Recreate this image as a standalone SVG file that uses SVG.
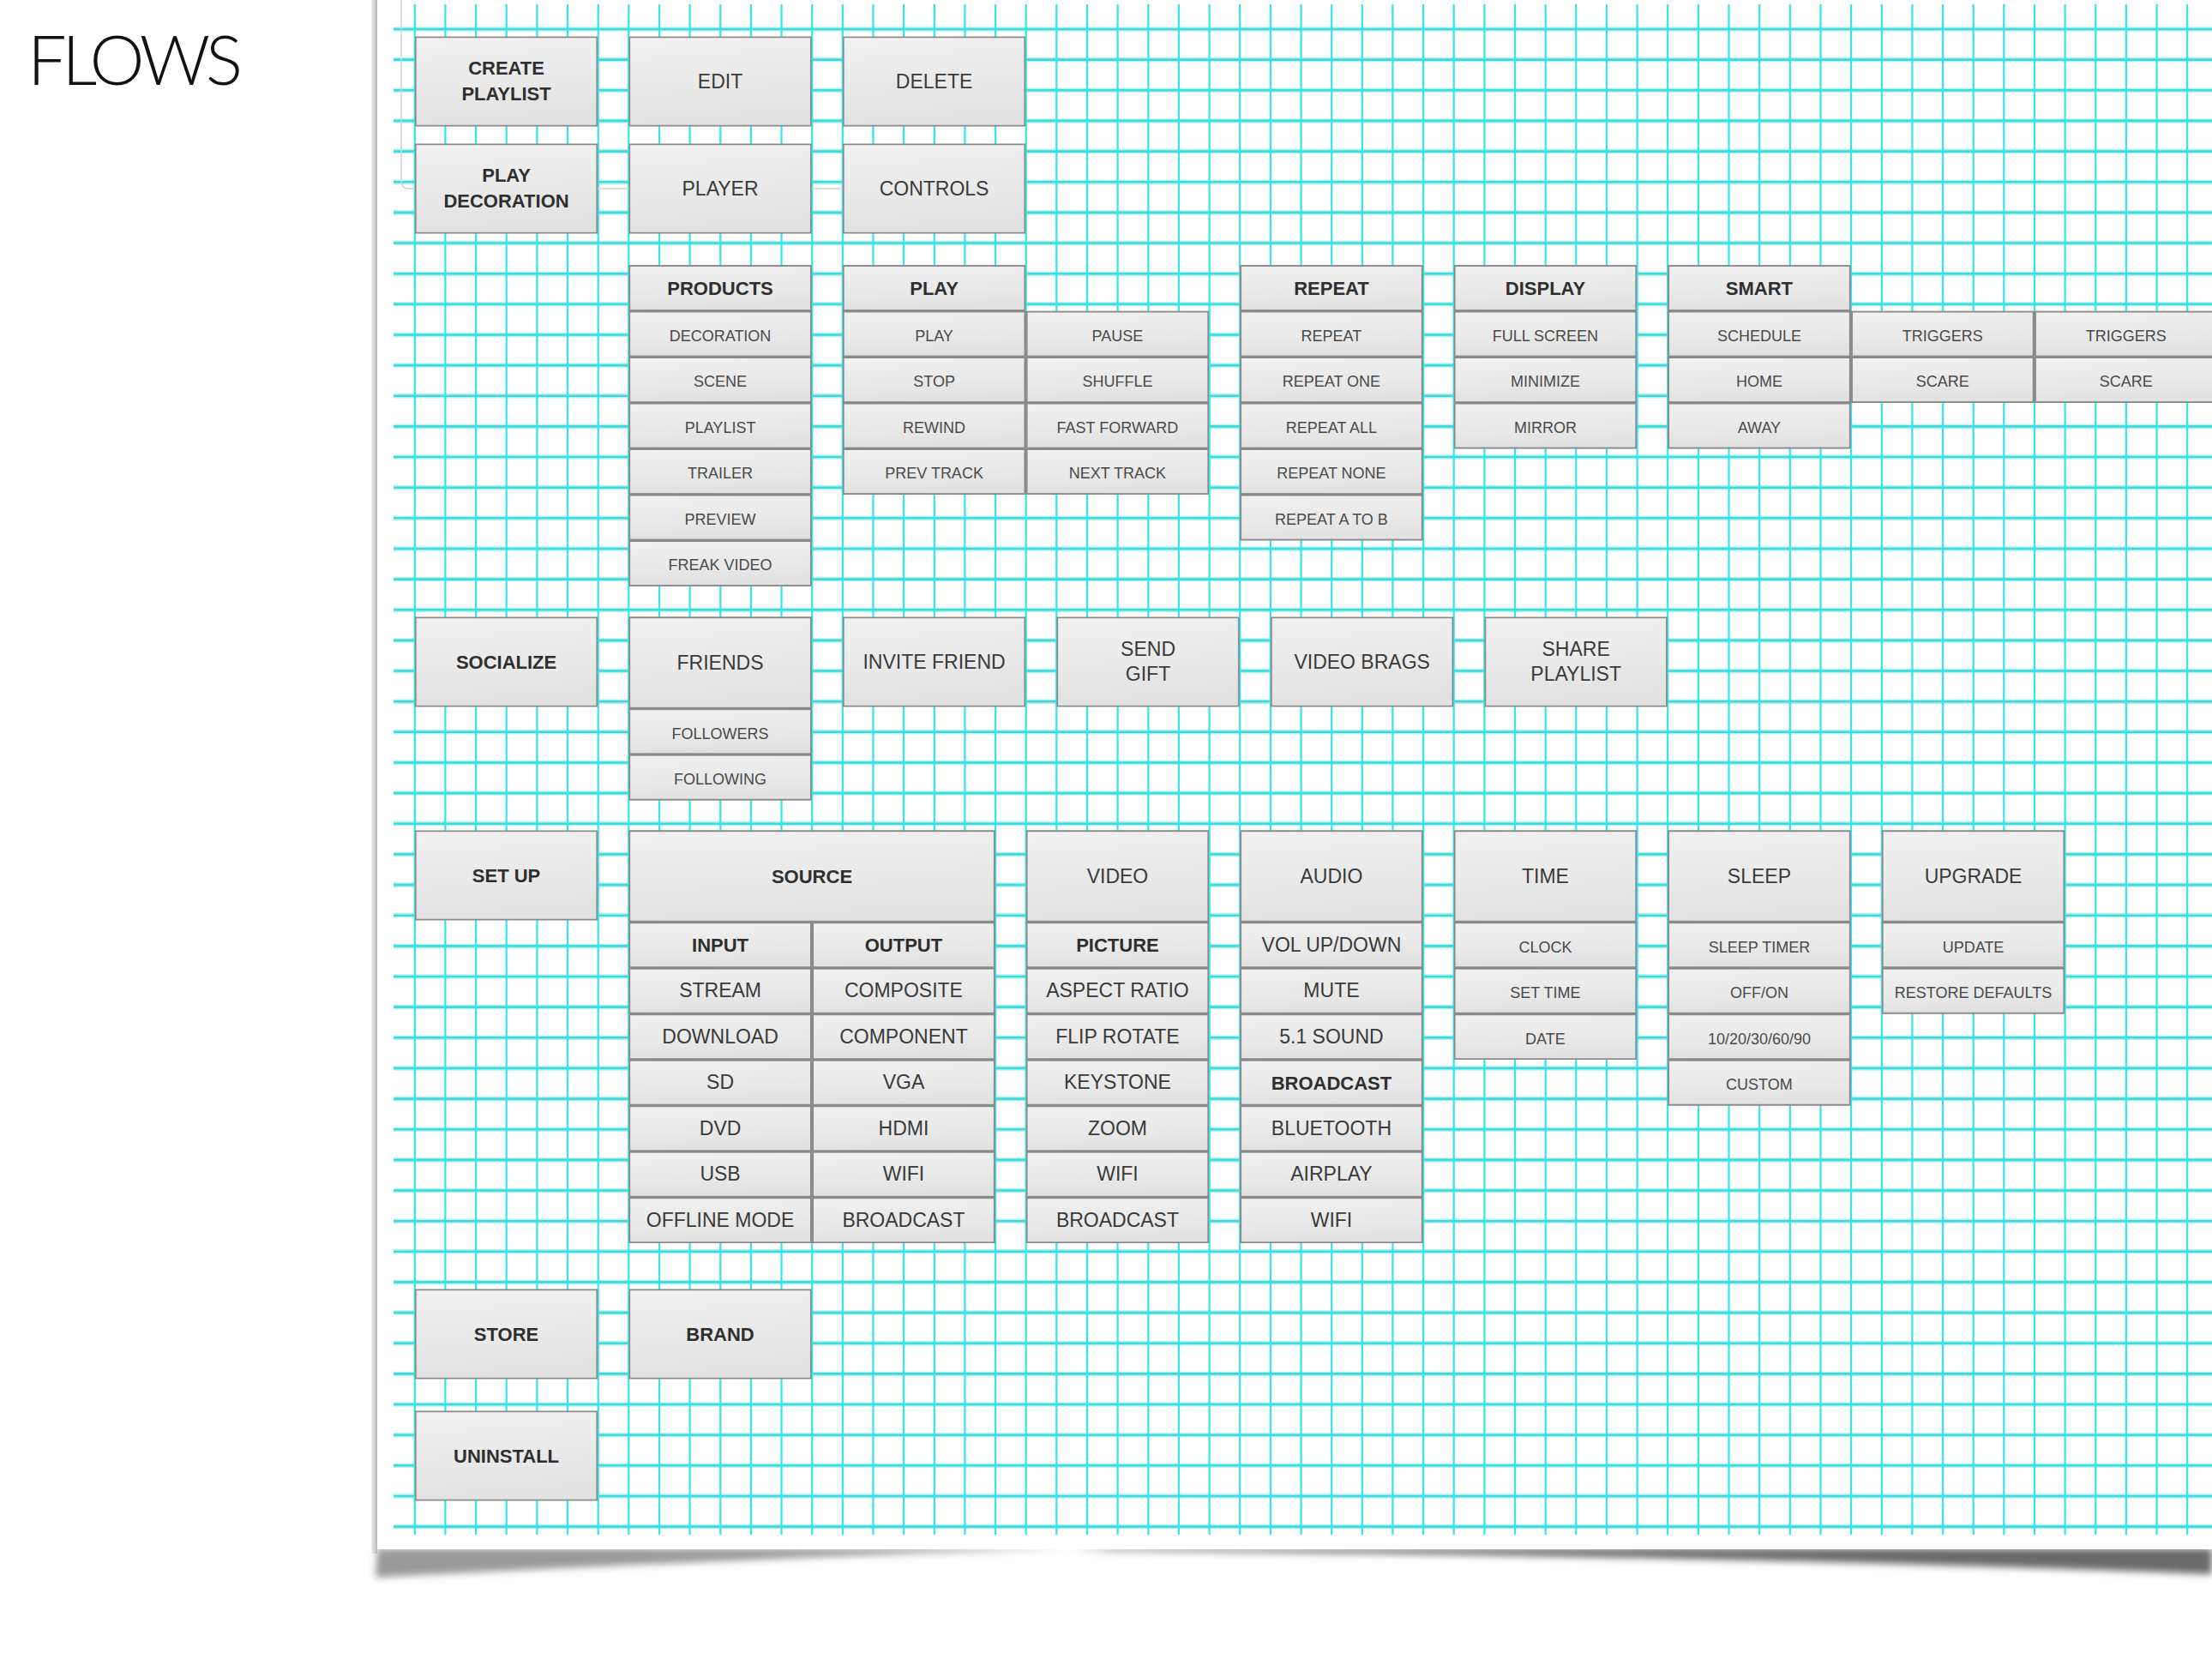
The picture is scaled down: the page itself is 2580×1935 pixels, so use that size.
<svg xmlns="http://www.w3.org/2000/svg" xmlns:xlink="http://www.w3.org/1999/xlink" width="2580" height="1935" viewBox="0 0 2580 1935">
<defs>
<linearGradient id="boxg" x1="0" y1="0" x2="0.15" y2="1">
<stop offset="0" stop-color="#f1f1f1"/>
<stop offset="0.6" stop-color="#e9e9e9"/>
<stop offset="1" stop-color="#e1e1e1"/>
</linearGradient>
<linearGradient id="edgeg" x1="0" y1="0" x2="1" y2="0">
<stop offset="0" stop-color="#ededed"/>
<stop offset="0.6" stop-color="#cfcfcf"/>
<stop offset="1" stop-color="#b2b2b2"/>
</linearGradient>
<filter id="blur" x="-5%" y="-100%" width="110%" height="300%">
<feGaussianBlur stdDeviation="4"/>
</filter>
<path id="hl" d="M459 34H2580M459 69.6H2580M459 105.3H2580M459 140.9H2580M459 176.6H2580M459 212.2H2580M459 247.9H2580M459 283.5H2580M459 319.2H2580M459 354.8H2580M459 390.5H2580M459 426.1H2580M459 461.7H2580M459 497.4H2580M459 533H2580M459 568.7H2580M459 604.3H2580M459 640H2580M459 675.6H2580M459 711.3H2580M459 746.9H2580M459 782.5H2580M459 818.2H2580M459 853.8H2580M459 889.5H2580M459 925.1H2580M459 960.8H2580M459 996.4H2580M459 1032.1H2580M459 1067.7H2580M459 1103.4H2580M459 1139H2580M459 1174.6H2580M459 1210.3H2580M459 1245.9H2580M459 1281.6H2580M459 1317.2H2580M459 1352.9H2580M459 1388.5H2580M459 1424.2H2580M459 1459.8H2580M459 1495.4H2580M459 1531.1H2580M459 1566.7H2580M459 1602.4H2580M459 1638H2580M459 1673.7H2580M459 1709.3H2580M459 1745H2580M459 1780.6H2580"/>
<path id="vl" d="M483.8 5V1790M519.4 5V1790M555.1 5V1790M590.7 5V1790M626.4 5V1790M662 5V1790M697.7 5V1790M733.3 5V1790M769 5V1790M804.6 5V1790M840.3 5V1790M875.9 5V1790M911.5 5V1790M947.2 5V1790M982.8 5V1790M1018.5 5V1790M1054.1 5V1790M1089.8 5V1790M1125.4 5V1790M1161.1 5V1790M1196.7 5V1790M1232.3 5V1790M1268 5V1790M1303.6 5V1790M1339.3 5V1790M1374.9 5V1790M1410.6 5V1790M1446.2 5V1790M1481.9 5V1790M1517.5 5V1790M1553.2 5V1790M1588.8 5V1790M1624.4 5V1790M1660.1 5V1790M1695.7 5V1790M1731.4 5V1790M1767 5V1790M1802.7 5V1790M1838.3 5V1790M1874 5V1790M1909.6 5V1790M1945.2 5V1790M1980.9 5V1790M2016.5 5V1790M2052.2 5V1790M2087.8 5V1790M2123.5 5V1790M2159.1 5V1790M2194.8 5V1790M2230.4 5V1790M2266.1 5V1790M2301.7 5V1790M2337.3 5V1790M2373 5V1790M2408.6 5V1790M2444.3 5V1790M2479.9 5V1790M2515.6 5V1790M2551.2 5V1790"/>
</defs>
<style>
.b{fill:url(#boxg);stroke:#8a8a8a;stroke-width:1.7}
.sg{fill:#8c8c8c}
.halo{fill:none;stroke:#b4f3f3;stroke-width:5.5}
.hline{fill:none;stroke:#3fd9dc;stroke-width:2.6}
.vline{fill:none;stroke:#33e6e8;stroke-width:2.2}
text{font-family:"Liberation Sans",Arial,Helvetica,sans-serif;text-anchor:middle}
.hb{font-size:22px;font-weight:bold;fill:#2f2f2f}
.r{font-size:23px;fill:#3a3a3a}
.s{font-size:18px;fill:#4a4a4a}
.title{font-family:Lato,"Open Sans","Liberation Sans",sans-serif;font-weight:300;font-size:81px;fill:#111;text-anchor:start}
</style>
<rect x="0" y="0" width="2580" height="1935" fill="#ffffff"/>
<g id="paper">
<path d="M440 1806 H1250 C1000 1813 700 1826 438 1840 Z" fill="#9a9a9a" filter="url(#blur)"/>
<path d="M1250 1806 H2580 V1836 C2300 1826 1950 1814 1300 1809 Z" fill="#6a6a6a" filter="url(#blur)"/>
<rect x="433" y="0" width="7" height="1812" fill="url(#edgeg)"/>
<rect x="440" y="0" width="2140" height="1807" fill="#ffffff"/>
</g>
<g id="grid">
<use xlink:href="#hl" class="halo"/>
<use xlink:href="#hl" class="hline"/>
<use xlink:href="#vl" class="vline"/>
<path d="M468 0 V211 Q468 220 477 220 H1150" fill="none" stroke="#d2d2d2" stroke-width="1.5"/>
</g>
<text id="title" class="title" x="32" y="99" textLength="251" lengthAdjust="spacing">FLOWS</text>
<g id="connectors"/>

<g id="create-playlist"><rect class="b" x="484.8" y="43.35" width="211.5" height="103.3"/><text class="hb" x="590.55" y="87.3">CREATE</text><text class="hb" x="590.55" y="116.7">PLAYLIST</text></g>
<g id="edit"><rect class="b" x="734.3" y="43.35" width="211.5" height="103.3"/><text class="r" x="840.05" y="103.2">EDIT</text></g>
<g id="delete"><rect class="b" x="983.8" y="43.35" width="211.5" height="103.3"/><text class="r" x="1089.55" y="103.2">DELETE</text></g>
<g id="play-decoration"><rect class="b" x="484.8" y="168.35" width="211.5" height="103.3"/><text class="hb" x="590.55" y="212.3">PLAY</text><text class="hb" x="590.55" y="241.7">DECORATION</text></g>
<g id="player"><rect class="b" x="734.3" y="168.35" width="211.5" height="103.3"/><text class="r" x="840.05" y="228.2">PLAYER</text></g>
<g id="controls"><rect class="b" x="983.8" y="168.35" width="211.5" height="103.3"/><text class="r" x="1089.55" y="228.2">CONTROLS</text></g>

<g id="products">
<rect class="sg" x="733.5" y="309.3" width="213.1" height="374.5"/>
<rect class="b" x="734.3" y="310.15" width="211.5" height="51.8"/><text class="hb" x="840.05" y="343.95">PRODUCTS</text>
<rect class="b" x="734.3" y="363.65" width="211.5" height="51.8"/><text class="s" x="840.05" y="397.85">DECORATION</text>
<rect class="b" x="734.3" y="417.15" width="211.5" height="51.8"/><text class="s" x="840.05" y="451.35">SCENE</text>
<rect class="b" x="734.3" y="470.65" width="211.5" height="51.8"/><text class="s" x="840.05" y="504.85">PLAYLIST</text>
<rect class="b" x="734.3" y="524.15" width="211.5" height="51.8"/><text class="s" x="840.05" y="558.35">TRAILER</text>
<rect class="b" x="734.3" y="577.65" width="211.5" height="51.8"/><text class="s" x="840.05" y="611.85">PREVIEW</text>
<rect class="b" x="734.3" y="631.15" width="211.5" height="51.8"/><text class="s" x="840.05" y="665.35">FREAK VIDEO</text>
</g>

<g id="play">
<rect class="sg" x="983" y="309.3" width="213.1" height="267.5"/>
<rect class="sg" x="983" y="362.8" width="427" height="214"/>
<rect class="b" x="983.8" y="310.15" width="211.5" height="51.8"/><text class="hb" x="1089.55" y="343.95">PLAY</text>
<rect class="b" x="983.8" y="363.65" width="211.5" height="51.8"/><text class="s" x="1089.55" y="397.85">PLAY</text>
<rect class="b" x="983.8" y="417.15" width="211.5" height="51.8"/><text class="s" x="1089.55" y="451.35">STOP</text>
<rect class="b" x="983.8" y="470.65" width="211.5" height="51.8"/><text class="s" x="1089.55" y="504.85">REWIND</text>
<rect class="b" x="983.8" y="524.15" width="211.5" height="51.8"/><text class="s" x="1089.55" y="558.35">PREV TRACK</text>
<rect class="b" x="1197.7" y="363.65" width="211.5" height="51.8"/><text class="s" x="1303.45" y="397.85">PAUSE</text>
<rect class="b" x="1197.7" y="417.15" width="211.5" height="51.8"/><text class="s" x="1303.45" y="451.35">SHUFFLE</text>
<rect class="b" x="1197.7" y="470.65" width="211.5" height="51.8"/><text class="s" x="1303.45" y="504.85">FAST FORWARD</text>
<rect class="b" x="1197.7" y="524.15" width="211.5" height="51.8"/><text class="s" x="1303.45" y="558.35">NEXT TRACK</text>
</g>

<g id="repeat">
<rect class="sg" x="1446.4" y="309.3" width="213.1" height="321"/>
<rect class="b" x="1447.2" y="310.15" width="211.5" height="51.8"/><text class="hb" x="1552.95" y="343.95">REPEAT</text>
<rect class="b" x="1447.2" y="363.65" width="211.5" height="51.8"/><text class="s" x="1552.95" y="397.85">REPEAT</text>
<rect class="b" x="1447.2" y="417.15" width="211.5" height="51.8"/><text class="s" x="1552.95" y="451.35">REPEAT ONE</text>
<rect class="b" x="1447.2" y="470.65" width="211.5" height="51.8"/><text class="s" x="1552.95" y="504.85">REPEAT ALL</text>
<rect class="b" x="1447.2" y="524.15" width="211.5" height="51.8"/><text class="s" x="1552.95" y="558.35">REPEAT NONE</text>
<rect class="b" x="1447.2" y="577.65" width="211.5" height="51.8"/><text class="s" x="1552.95" y="611.85">REPEAT A TO B</text>
</g>

<g id="display">
<rect class="sg" x="1695.9" y="309.3" width="213.1" height="214"/>
<rect class="b" x="1696.7" y="310.15" width="211.5" height="51.8"/><text class="hb" x="1802.45" y="343.95">DISPLAY</text>
<rect class="b" x="1696.7" y="363.65" width="211.5" height="51.8"/><text class="s" x="1802.45" y="397.85">FULL SCREEN</text>
<rect class="b" x="1696.7" y="417.15" width="211.5" height="51.8"/><text class="s" x="1802.45" y="451.35">MINIMIZE</text>
<rect class="b" x="1696.7" y="470.65" width="211.5" height="51.8"/><text class="s" x="1802.45" y="504.85">MIRROR</text>
</g>

<g id="smart">
<rect class="sg" x="1945.4" y="309.3" width="213.1" height="214"/>
<rect class="sg" x="1945.4" y="362.8" width="640" height="107"/>
<rect class="b" x="1946.2" y="310.15" width="211.5" height="51.8"/><text class="hb" x="2051.95" y="343.95">SMART</text>
<rect class="b" x="1946.2" y="363.65" width="211.5" height="51.8"/><text class="s" x="2051.95" y="397.85">SCHEDULE</text>
<rect class="b" x="1946.2" y="417.15" width="211.5" height="51.8"/><text class="s" x="2051.95" y="451.35">HOME</text>
<rect class="b" x="1946.2" y="470.65" width="211.5" height="51.8"/><text class="s" x="2051.95" y="504.85">AWAY</text>
</g>
<g id="triggers-1">
<rect class="b" x="2160.1" y="363.65" width="211.5" height="51.8"/><text class="s" x="2265.85" y="397.85">TRIGGERS</text>
<rect class="b" x="2160.1" y="417.15" width="211.5" height="51.8"/><text class="s" x="2265.85" y="451.35">SCARE</text>
</g>
<g id="triggers-2">
<rect class="b" x="2374" y="363.65" width="211.5" height="51.8"/><text class="s" x="2479.75" y="397.85">TRIGGERS</text>
<rect class="b" x="2374" y="417.15" width="211.5" height="51.8"/><text class="s" x="2479.75" y="451.35">SCARE</text>
</g>

<g id="socialize"><rect class="b" x="484.8" y="720.35" width="211.5" height="103.3"/><text class="hb" x="590.55" y="779.9">SOCIALIZE</text></g>
<g id="friends">
<rect class="sg" x="733.5" y="719.5" width="213.1" height="214"/>
<rect class="b" x="734.3" y="720.35" width="211.5" height="105.3"/><text class="r" x="840.05" y="780.5">FRIENDS</text>
<rect class="b" x="734.3" y="827.35" width="211.5" height="51.8"/><text class="s" x="840.05" y="861.55">FOLLOWERS</text>
<rect class="b" x="734.3" y="880.85" width="211.5" height="51.8"/><text class="s" x="840.05" y="915.05">FOLLOWING</text>
</g>
<g id="invite-friend"><rect class="b" x="983.8" y="720.35" width="211.5" height="103.3"/><text class="r" x="1089.55" y="780.2">INVITE FRIEND</text></g>
<g id="send-gift"><rect class="b" x="1233.3" y="720.35" width="211.5" height="103.3"/><text class="r" x="1339.05" y="765">SEND</text><text class="r" x="1339.05" y="794">GIFT</text></g>
<g id="video-brags"><rect class="b" x="1482.9" y="720.35" width="211.5" height="103.3"/><text class="r" x="1588.65" y="780.2">VIDEO BRAGS</text></g>
<g id="share-playlist"><rect class="b" x="1732.4" y="720.35" width="211.5" height="103.3"/><text class="r" x="1838.15" y="765">SHARE</text><text class="r" x="1838.15" y="794">PLAYLIST</text></g>

<g id="setup"><rect class="b" x="484.8" y="969.35" width="211.5" height="103.3"/><text class="hb" x="590.55" y="1028.9">SET UP</text></g>
<g id="source">
<rect class="sg" x="733.5" y="968.5" width="427" height="481.5"/>
<rect class="b" x="734.3" y="969.35" width="425.4" height="105.3"/><text class="hb" x="947" y="1029.9">SOURCE</text>
<rect class="b" x="734.3" y="1076.35" width="211.5" height="51.8"/><text class="hb" x="840.05" y="1110.15">INPUT</text>
<rect class="b" x="734.3" y="1129.85" width="211.5" height="51.8"/><text class="r" x="840.05" y="1163.25">STREAM</text>
<rect class="b" x="734.3" y="1183.35" width="211.5" height="51.8"/><text class="r" x="840.05" y="1216.75">DOWNLOAD</text>
<rect class="b" x="734.3" y="1236.85" width="211.5" height="51.8"/><text class="r" x="840.05" y="1270.25">SD</text>
<rect class="b" x="734.3" y="1290.35" width="211.5" height="51.8"/><text class="r" x="840.05" y="1323.75">DVD</text>
<rect class="b" x="734.3" y="1343.85" width="211.5" height="51.8"/><text class="r" x="840.05" y="1377.25">USB</text>
<rect class="b" x="734.3" y="1397.35" width="211.5" height="51.8"/><text class="r" x="840.05" y="1430.75">OFFLINE MODE</text>
<rect class="b" x="948.2" y="1076.35" width="211.5" height="51.8"/><text class="hb" x="1053.95" y="1110.15">OUTPUT</text>
<rect class="b" x="948.2" y="1129.85" width="211.5" height="51.8"/><text class="r" x="1053.95" y="1163.25">COMPOSITE</text>
<rect class="b" x="948.2" y="1183.35" width="211.5" height="51.8"/><text class="r" x="1053.95" y="1216.75">COMPONENT</text>
<rect class="b" x="948.2" y="1236.85" width="211.5" height="51.8"/><text class="r" x="1053.95" y="1270.25">VGA</text>
<rect class="b" x="948.2" y="1290.35" width="211.5" height="51.8"/><text class="r" x="1053.95" y="1323.75">HDMI</text>
<rect class="b" x="948.2" y="1343.85" width="211.5" height="51.8"/><text class="r" x="1053.95" y="1377.25">WIFI</text>
<rect class="b" x="948.2" y="1397.35" width="211.5" height="51.8"/><text class="r" x="1053.95" y="1430.75">BROADCAST</text>
</g>
<g id="video">
<rect class="sg" x="1196.9" y="968.5" width="213.1" height="481.5"/>
<rect class="b" x="1197.7" y="969.35" width="211.5" height="105.3"/><text class="r" x="1303.45" y="1029.9">VIDEO</text>
<rect class="b" x="1197.7" y="1076.35" width="211.5" height="51.8"/><text class="hb" x="1303.45" y="1110.15">PICTURE</text>
<rect class="b" x="1197.7" y="1129.85" width="211.5" height="51.8"/><text class="r" x="1303.45" y="1163.25">ASPECT RATIO</text>
<rect class="b" x="1197.7" y="1183.35" width="211.5" height="51.8"/><text class="r" x="1303.45" y="1216.75">FLIP ROTATE</text>
<rect class="b" x="1197.7" y="1236.85" width="211.5" height="51.8"/><text class="r" x="1303.45" y="1270.25">KEYSTONE</text>
<rect class="b" x="1197.7" y="1290.35" width="211.5" height="51.8"/><text class="r" x="1303.45" y="1323.75">ZOOM</text>
<rect class="b" x="1197.7" y="1343.85" width="211.5" height="51.8"/><text class="r" x="1303.45" y="1377.25">WIFI</text>
<rect class="b" x="1197.7" y="1397.35" width="211.5" height="51.8"/><text class="r" x="1303.45" y="1430.75">BROADCAST</text>
</g>
<g id="audio">
<rect class="sg" x="1446.4" y="968.5" width="213.1" height="481.5"/>
<rect class="b" x="1447.2" y="969.35" width="211.5" height="105.3"/><text class="r" x="1552.95" y="1029.9">AUDIO</text>
<rect class="b" x="1447.2" y="1076.35" width="211.5" height="51.8"/><text class="r" x="1552.95" y="1109.75">VOL UP/DOWN</text>
<rect class="b" x="1447.2" y="1129.85" width="211.5" height="51.8"/><text class="r" x="1552.95" y="1163.25">MUTE</text>
<rect class="b" x="1447.2" y="1183.35" width="211.5" height="51.8"/><text class="r" x="1552.95" y="1216.75">5.1 SOUND</text>
<rect class="b" x="1447.2" y="1236.85" width="211.5" height="51.8"/><text class="hb" x="1552.95" y="1270.65">BROADCAST</text>
<rect class="b" x="1447.2" y="1290.35" width="211.5" height="51.8"/><text class="r" x="1552.95" y="1323.75">BLUETOOTH</text>
<rect class="b" x="1447.2" y="1343.85" width="211.5" height="51.8"/><text class="r" x="1552.95" y="1377.25">AIRPLAY</text>
<rect class="b" x="1447.2" y="1397.35" width="211.5" height="51.8"/><text class="r" x="1552.95" y="1430.75">WIFI</text>
</g>
<g id="time">
<rect class="sg" x="1695.9" y="968.5" width="213.1" height="267.5"/>
<rect class="b" x="1696.7" y="969.35" width="211.5" height="105.3"/><text class="r" x="1802.45" y="1029.9">TIME</text>
<rect class="b" x="1696.7" y="1076.35" width="211.5" height="51.8"/><text class="s" x="1802.45" y="1110.55">CLOCK</text>
<rect class="b" x="1696.7" y="1129.85" width="211.5" height="51.8"/><text class="s" x="1802.45" y="1164.05">SET TIME</text>
<rect class="b" x="1696.7" y="1183.35" width="211.5" height="51.8"/><text class="s" x="1802.45" y="1217.55">DATE</text>
</g>
<g id="sleep">
<rect class="sg" x="1945.4" y="968.5" width="213.1" height="321"/>
<rect class="b" x="1946.2" y="969.35" width="211.5" height="105.3"/><text class="r" x="2051.95" y="1029.9">SLEEP</text>
<rect class="b" x="1946.2" y="1076.35" width="211.5" height="51.8"/><text class="s" x="2051.95" y="1110.55">SLEEP TIMER</text>
<rect class="b" x="1946.2" y="1129.85" width="211.5" height="51.8"/><text class="s" x="2051.95" y="1164.05">OFF/ON</text>
<rect class="b" x="1946.2" y="1183.35" width="211.5" height="51.8"/><text class="s" x="2051.95" y="1217.55">10/20/30/60/90</text>
<rect class="b" x="1946.2" y="1236.85" width="211.5" height="51.8"/><text class="s" x="2051.95" y="1271.05">CUSTOM</text>
</g>
<g id="upgrade">
<rect class="sg" x="2195" y="968.5" width="213.1" height="214"/>
<rect class="b" x="2195.8" y="969.35" width="211.5" height="105.3"/><text class="r" x="2301.55" y="1029.9">UPGRADE</text>
<rect class="b" x="2195.8" y="1076.35" width="211.5" height="51.8"/><text class="s" x="2301.55" y="1110.55">UPDATE</text>
<rect class="b" x="2195.8" y="1129.85" width="211.5" height="51.8"/><text class="s" x="2301.55" y="1164.05">RESTORE DEFAULTS</text>
</g>

<g id="store"><rect class="b" x="484.8" y="1504.35" width="211.5" height="103.3"/><text class="hb" x="590.55" y="1563.9">STORE</text></g>
<g id="brand"><rect class="b" x="734.3" y="1504.35" width="211.5" height="103.3"/><text class="hb" x="840.05" y="1563.9">BRAND</text></g>
<g id="uninstall"><rect class="b" x="484.8" y="1646.35" width="211.5" height="103.3"/><text class="hb" x="590.55" y="1705.9">UNINSTALL</text></g>
</svg>
